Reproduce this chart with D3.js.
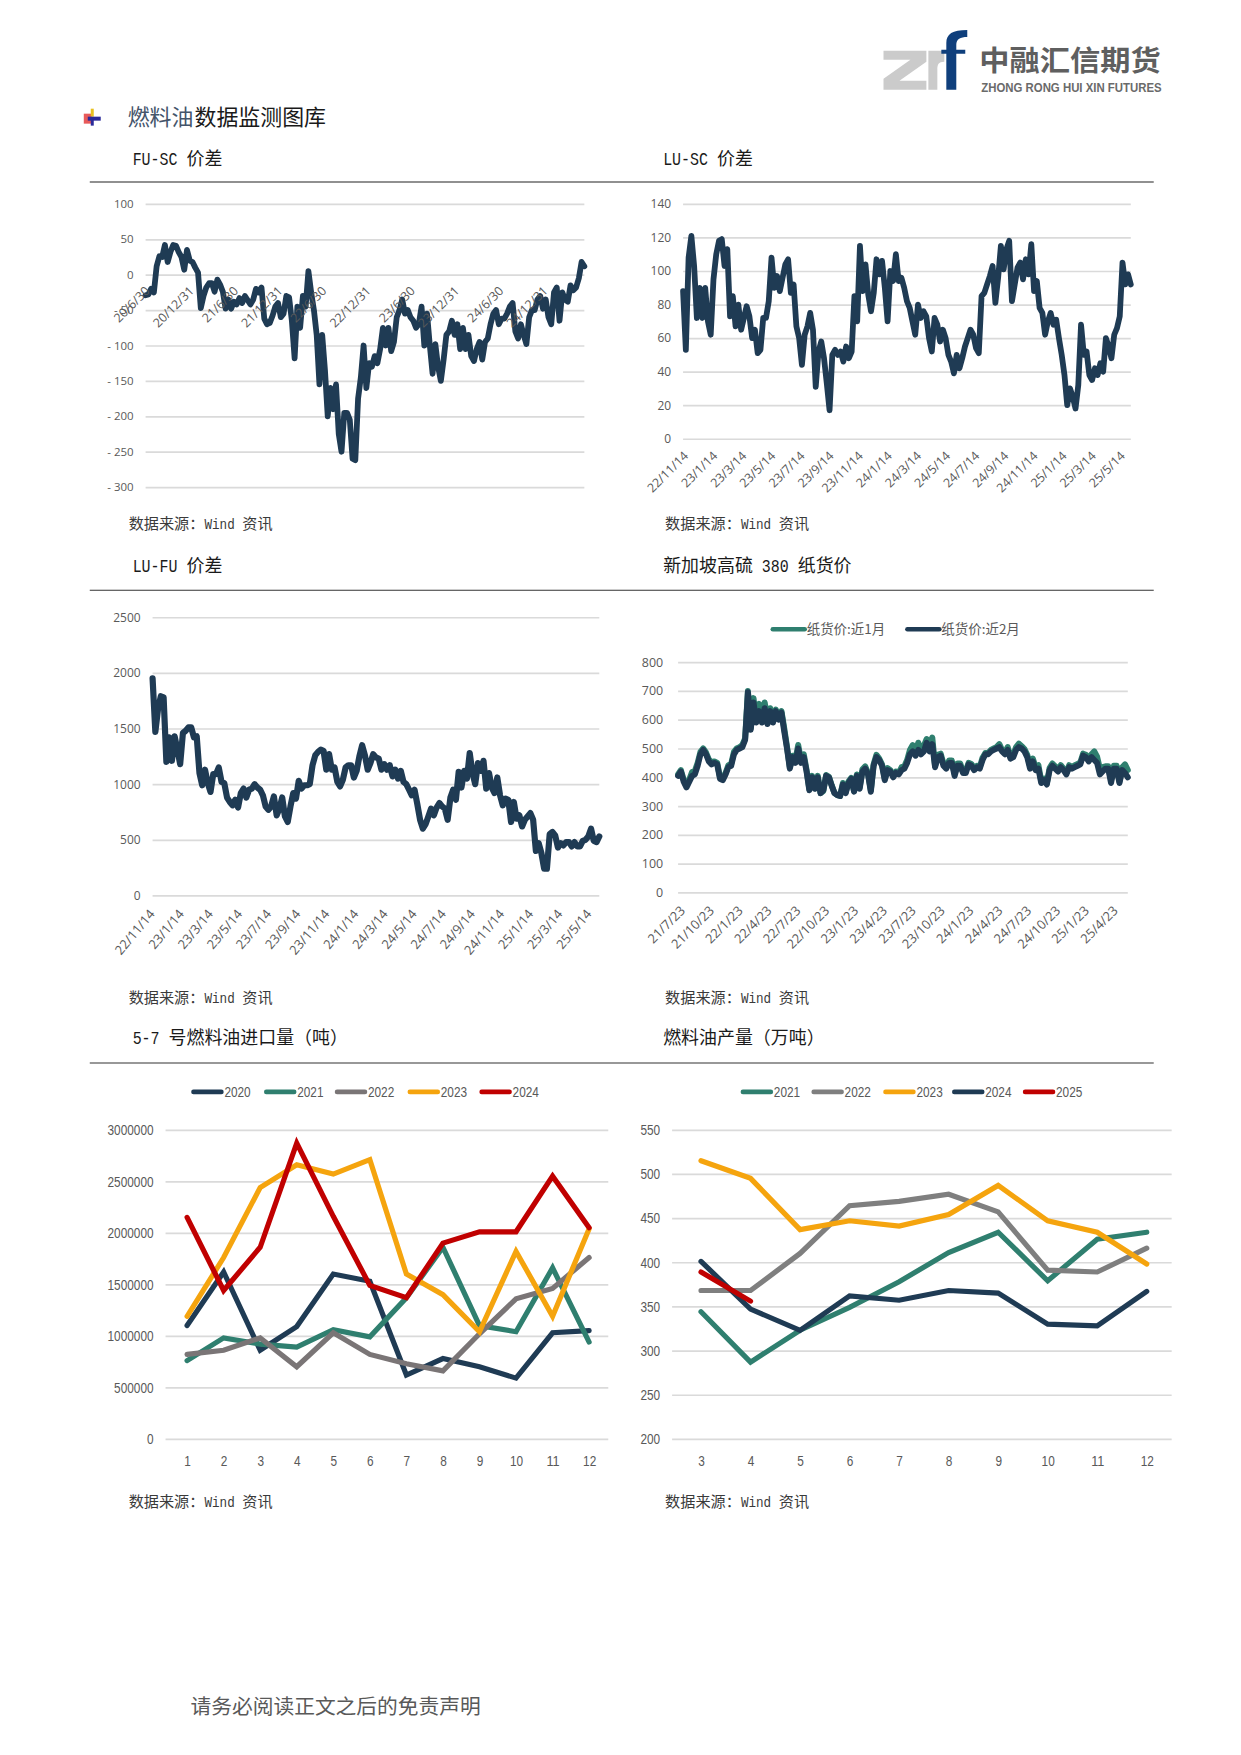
<!DOCTYPE html>
<html><head><meta charset="utf-8">
<script src="https://cdnjs.cloudflare.com/ajax/libs/d3/7.8.5/d3.min.js"></script>
<style>
html,body{margin:0;padding:0;background:#fff}
svg{display:block}
.tick text{font-family:"Open Sans","Noto Sans",sans-serif;fill:#595959}
.narrow .tick text{font-family:"Liberation Sans",sans-serif;fill:#595959}
</style></head><body>
<svg id="page" width="1241" height="1755" viewBox="0 0 1244.5 1760"></svg>
<script>
const fuScLabels=["20/6/30","20/12/31","21/6/30","21/12/31","22/6/30","22/12/31","23/6/30","23/12/31","24/6/30","24/12/31"];
const fuScValues=[-29,-28,-20,-25,12,26,25,42,18,32,42,41,32,25,7,35,20,18,10,3,-47,-30,-18,-12,-12,-24,-7,-14,-24,-48,-35,-48,-38,-42,-33,-40,-30,-36,-42,-35,-20,-25,-18,-62,-70,-68,-58,-45,-40,-60,-55,-30,-32,-65,-118,-45,-75,-30,-45,5,-25,-50,-85,-155,-85,-135,-200,-160,-190,-155,-225,-250,-195,-195,-205,-260,-262,-175,-145,-100,-160,-125,-130,-115,-125,-105,-75,-100,-75,-108,-95,-60,-50,-35,-55,-50,-60,-65,-75,-70,-45,-100,-55,-100,-140,-98,-130,-150,-120,-85,-80,-65,-85,-70,-105,-75,-105,-85,-115,-122,-105,-95,-120,-95,-90,-70,-55,-50,-70,-62,-62,-55,-45,-40,-80,-90,-70,-85,-98,-60,-50,-50,-35,-30,-48,-35,-60,-70,-25,-18,-65,-25,-35,-38,-15,-22,-18,-5,18,12];
const dateLabelsNov=["22/11/14","23/1/14","23/3/14","23/5/14","23/7/14","23/9/14","23/11/14","24/1/14","24/3/14","24/5/14","24/7/14","24/9/14","24/11/14","25/1/14","25/3/14","25/5/14"];
const luScValues=[88,53,108,121,103,72,90,72,90,70,62,95,110,118,119,103,113,73,85,67,80,65,72,79,73,60,65,51,53,72,72,82,108,90,97,88,96,104,107,87,92,67,60,44,62,67,75,65,31,52,58,48,33,17,50,53,50,52,46,55,48,52,85,70,115,88,104,86,76,87,107,98,106,90,70,100,94,110,94,96,90,82,78,70,62,80,72,76,73,60,52,72,68,58,65,60,50,46,39,50,42,48,55,60,65,62,54,51,85,87,92,97,103,81,96,115,101,113,118,82,92,102,105,95,107,98,116,88,94,78,75,62,70,75,68,71,60,50,38,20,30,25,18,32,68,50,52,38,35,42,38,45,40,60,55,48,62,66,73,105,92,98,92];
const luFuValues=[1950,1470,1680,1790,1780,1200,1420,1210,1430,1310,1180,1460,1480,1510,1510,1420,1430,1100,990,1130,1010,930,1090,1090,1150,1020,1010,880,840,810,860,790,920,960,880,950,960,1000,970,950,900,800,770,800,890,720,780,880,710,660,800,920,870,1030,960,990,990,1000,1170,1260,1290,1310,1300,1130,1270,1130,1150,1020,980,1040,1150,1170,1170,1060,1120,1250,1350,1260,1130,1190,1270,1240,1230,1130,1180,1130,1170,1070,1130,1050,1120,1020,1000,950,900,950,820,680,600,640,710,780,720,790,830,800,780,680,880,950,860,1110,970,1120,1050,1280,1100,1000,1190,1120,1210,960,1100,970,920,1060,900,810,870,860,660,840,690,720,620,680,710,740,680,400,470,380,240,240,550,570,540,430,470,450,480,480,440,480,440,440,490,500,530,600,490,480,530];
const swapLabels=["21/7/23","21/10/23","22/1/23","22/4/23","22/7/23","22/10/23","23/1/23","23/4/23","23/7/23","23/10/23","24/1/23","24/4/23","24/7/23","24/10/23","25/1/23","25/4/23"];
const swapNear2=[405,420,385,365,385,405,410,440,480,495,480,455,445,450,445,395,390,410,435,440,480,495,500,505,530,695,565,660,590,630,590,640,585,630,590,630,600,625,560,500,430,470,450,500,450,470,420,355,400,360,400,345,355,405,400,370,345,338,335,375,345,380,395,350,405,360,420,430,410,350,440,470,460,440,390,425,420,400,415,410,425,430,450,480,490,475,495,480,490,520,490,515,435,470,475,440,430,450,450,405,440,440,415,415,445,440,425,435,430,460,480,480,490,495,500,505,490,480,495,465,470,495,505,500,490,470,430,455,425,430,380,390,375,425,440,430,420,435,425,410,435,430,435,440,445,475,470,455,470,460,450,410,420,430,430,380,430,430,380,425,415,400];
const swapNear1=[410,425,392,372,392,418,422,450,488,500,486,462,452,455,450,400,398,415,442,446,488,500,505,512,535,700,570,675,600,655,605,660,600,640,605,635,605,630,570,505,435,475,460,512,460,480,425,358,405,362,405,345,352,408,402,372,345,338,335,380,348,385,398,352,410,365,428,438,415,355,445,478,465,445,395,432,425,405,420,415,435,438,460,495,512,488,520,495,510,533,510,538,440,478,482,448,435,458,458,412,448,448,420,422,450,446,432,440,435,468,484,484,495,500,505,515,495,485,505,470,478,505,517,508,498,478,438,465,435,442,388,395,378,432,448,438,428,442,430,415,442,436,442,446,452,482,478,462,480,490,472,430,435,438,438,390,440,440,385,435,445,425];
const swapSeriesNames=["纸货价:近1月","纸货价:近2月"];
const months12=[1,2,3,4,5,6,7,8,9,10,11,12];
const imp2020=[1100000,1620000,860000,1090000,1600000,1530000,620000,780000,700000,590000,1030000,1050000];
const imp2021=[760000,980000,920000,890000,1060000,990000,1370000,1860000,1100000,1040000,1660000,940000];
const imp2022=[820000,860000,980000,700000,1030000,820000,730000,660000,1020000,1360000,1460000,1760000];
const imp2023=[1190000,1760000,2440000,2660000,2570000,2710000,1600000,1400000,1040000,1820000,1190000,2040000];
const imp2024=[2150000,1440000,1860000,2870000,2160000,1490000,1370000,1900000,2010000,2010000,2550000,2050000];
const months10=[3,4,5,6,7,8,9,10,11,12];
const out2021=[344,287,323,349,378,411,434,379,426,434];
const out2022=[368,368,410,464,469,477,457,391,389,416];
const out2023=[515,495,437,447,441,454,487,447,434,398];
const out2024=[401,347,323,362,357,368,365,330,328,367];
const out2025=[389,356];

const NAVY="#1f3b54",TEAL="#2f7f6f",GRAY="#7f7f7f",GRAY2="#7a7576",ORANGE="#f5a40e",RED="#c00000";
const svg=d3.select("#page");
const CJK='"Noto Sans CJK SC"',MONO='"Liberation Mono"';
const CHAR_W=6.6;

function rich(x,y,text,size,fill){
  let cx=x;
  (text.match(/[\x00-\x7F]+|[^\x00-\x7F]+/g)||[]).forEach(p=>{
    const latin=/^[\x00-\x7F]/.test(p);
    const body=latin?p.trim():p;
    const lead=latin?(p.length-p.trimStart().length)*size*0.5:0;
    const t=svg.append("text").attr("fill",fill||"#222").attr("font-family",latin?MONO:CJK).attr("font-size",size).text(body);
    t.attr("transform",latin?`translate(${cx+lead},${y}) scale(0.833,1)`:`translate(${cx},${y})`);
    cx+=latin?p.length*size*0.5:p.length*size;
  });
}
function yAxis(g,y,w,ticks,size,pad){
  const a=d3.axisLeft(y).tickValues(ticks).tickSize(-w).tickPadding(pad).tickFormat(d=>d<0?"- "+(-d):String(d));
  g.call(a);
  g.select(".domain").remove();
  g.selectAll(".tick line").attr("stroke","#dadada").attr("stroke-width",1.7);
  g.selectAll(".tick text").attr("font-size",size);
}
function longChart(c){
  const g=svg.append("g").attr("transform",`translate(${c.x0},${c.y0})`);
  const w=c.x1-c.x0,h=c.y1-c.y0;
  const y=d3.scaleLinear().domain(c.domain).range([h,0]);
  const n=c.series[0].values.length;
  const x=d3.scaleLinear().domain([0,n-1]).range([0,w]);
  yAxis(g.append("g"),y,w,c.ticks,c.fs||11.5,c.pad||12);
  const line=d3.line().x((d,i)=>x(i)).y(d=>y(d)).curve(d3.curveLinear);
  c.series.forEach(s=>g.append("path").datum(s.values).attr("d",line).attr("fill","none").attr("stroke",s.color).attr("stroke-width",c.sw||5.8).attr("stroke-linejoin","round").attr("stroke-linecap","round"));
  const tickY=c.labelY!==undefined?y(c.labelY):h;
  const xs=d3.scaleLinear().domain([0,c.labels.length-1]).range([c.lab0,c.lab1]);
  c.labels.forEach((l,i)=>{
    g.append("text").attr("transform",`translate(${xs(i)},${tickY+c.labelDy}) rotate(${c.rot||-45})`)
     .attr("text-anchor","end").attr("font-family",'"Open Sans","Noto Sans",sans-serif').attr("font-size",c.lfs||12.5).attr("fill","#595959").text(l);
  });
}
function squeeze(sel){
  sel.attr("lengthAdjust","spacingAndGlyphs").attr("textLength",function(){return this.textContent.length*CHAR_W;});
}
function yearChart(c){
  const g=svg.append("g").attr("class","narrow").attr("transform",`translate(${c.x0},${c.y0})`);
  const w=c.x1-c.x0,h=c.y1-c.y0;
  const y=d3.scaleLinear().domain(c.domain).range([h,0]);
  const x=d3.scalePoint().domain(c.cats).range(c.catRange);
  yAxis(g.append("g"),y,w,c.ticks,15,c.pad);
  squeeze(g.selectAll(".tick text"));
  const xa=g.append("g").attr("transform",`translate(0,${h})`).call(d3.axisBottom(x).tickSize(0).tickPadding(17));
  xa.select(".domain").remove();
  xa.selectAll(".tick text").attr("font-size",15);
  squeeze(xa.selectAll(".tick text"));
  c.series.forEach(s=>{
    const line=d3.line().x((d,i)=>x(c.cats[i])).y(d=>y(d));
    g.append("path").datum(s.values).attr("d",line).attr("fill","none").attr("stroke",s.color).attr("stroke-width",5.2).attr("stroke-linejoin","miter").attr("stroke-linecap","round");
  });
  c.series.forEach((s,i)=>{
    const lx=c.legendX[i];
    svg.append("line").attr("x1",lx).attr("x2",lx+c.legendLen).attr("y1",c.legendY).attr("y2",c.legendY).attr("stroke",s.color).attr("stroke-width",4.6).attr("stroke-linecap","round");
    squeeze(svg.append("text").attr("x",lx+c.legendLen+3).attr("y",c.legendY+5.5).attr("font-size",15).attr("fill","#595959").attr("font-family",'"Liberation Sans",sans-serif').text(s.name));
  });
}

/* header */
const logo=svg.append("g");
logo.append("path").attr("fill","#cbcbcb").attr("d","M886 51H929V62L902 81H929V90H886V79L913 60H886Z");
logo.append("path").attr("fill","#cbcbcb").attr("d","M931 51H947V62C941 62 940 65 940 70V90H931Z");
logo.append("path").attr("fill","#0f3f7c").attr("d","M949 90V54H944V50H949V43C949 34 955 30 970 30V37C963 37 959 39 959 45V50H968V54H959V90Z");
logo.append("text").attr("x",982).attr("y",71).attr("font-family",CJK).attr("font-weight",700).attr("font-size",29).attr("fill","#5f5f5f").attr("textLength",182).attr("lengthAdjust","spacingAndGlyphs").text("中融汇信期货");
logo.append("text").attr("x",984).attr("y",92).attr("font-family",'"Liberation Sans",sans-serif').attr("font-size",12.5).attr("font-weight",700).attr("fill","#6a6a6a").attr("textLength",181).attr("lengthAdjust","spacingAndGlyphs").text("ZHONG RONG HUI XIN FUTURES");
/* bullet */
const b=svg.append("g");
b.append("rect").attr("x",84).attr("y",114).attr("width",8).attr("height",10).attr("fill","#e85a5a");
b.append("rect").attr("x",91).attr("y",109).attr("width",3).attr("height",8).attr("fill","#e8c020");
b.append("rect").attr("x",88).attr("y",117).attr("width",13).attr("height",4).attr("fill","#2a2a9a");
b.append("rect").attr("x",91).attr("y",120).attr("width",3).attr("height",6).attr("fill","#2a2a9a");
svg.append("text").attr("x",128).attr("y",125).attr("font-family",CJK).attr("font-size",22).attr("fill","#44546a").text("燃料油");
svg.append("text").attr("x",195).attr("y",125).attr("font-family",CJK).attr("font-size",22).attr("fill","#1a1a1a").text("数据监测图库");

/* section titles and rules */
[[133,165,"FU-SC 价差"],[665,165,"LU-SC 价差"],[133,574,"LU-FU 价差"],[665,574,"新加坡高硫 380 纸货价"],[133,1047,"5-7 号燃料油进口量（吨）"],[665,1047,"燃料油产量（万吨）"]].forEach(d=>rich(d[0],d[1],d[2],18,"#1a1a1a"));
[182.5,592,1066].forEach(y=>svg.append("line").attr("x1",90).attr("x2",1157).attr("y1",y).attr("y2",y).attr("stroke",y===182.5?"#222":"#333").attr("stroke-width",1.1));
[[129,531],[667,531],[129,1006],[667,1006],[129,1511],[667,1511]].forEach(d=>rich(d[0],d[1],"数据来源：Wind 资讯",15.2,"#3a3a3a"));
svg.append("text").attr("x",191).attr("y",1719).attr("font-family",CJK).attr("font-size",20.8).attr("fill","#595959").text("请务必阅读正文之后的免责声明");

/* charts */
longChart({x0:146,x1:586,y0:204.5,y1:488.5,domain:[-300,100],ticks:[100,50,0,-50,-100,-150,-200,-250,-300],series:[{values:fuScValues,color:NAVY}],labels:fuScLabels,lab0:5,lab1:404,labelY:0,labelDy:17});
longChart({x0:685,x1:1134,y0:204.5,y1:440,domain:[0,140],ticks:[0,20,40,60,80,100,120,140],series:[{values:luScValues,color:NAVY}],labels:dateLabelsNov,lab0:6,lab1:444,labelDy:18,fs:12});
longChart({x0:153,x1:601,y0:619,y1:898,domain:[0,2500],ticks:[0,500,1000,1500,2000,2500],series:[{values:luFuValues,color:NAVY}],labels:dateLabelsNov,lab0:3,lab1:441,labelDy:19,fs:12,rot:-50,lfs:13,sw:6.2});
longChart({x0:680,x1:1131,y0:664,y1:895,domain:[0,800],ticks:[0,100,200,300,400,500,600,700,800],series:[{values:swapNear1,color:TEAL},{values:swapNear2,color:NAVY}],labels:swapLabels,lab0:8,lab1:442,labelDy:19,fs:12.5,pad:15,lfs:13,sw:6});
[[775,TEAL,0],[910,NAVY,1]].forEach(d=>{
  svg.append("line").attr("x1",d[0]).attr("x2",d[0]+32).attr("y1",631).attr("y2",631).attr("stroke",d[1]).attr("stroke-width",4.6).attr("stroke-linecap","round");
  svg.append("text").attr("x",d[0]+34).attr("y",636).attr("font-family",CJK).attr("font-size",13.5).attr("fill","#595959").text(swapSeriesNames[d[2]]);
});
yearChart({x0:166,x1:610,y0:1133,y1:1443,pad:12,catRange:[21.6,424.8],domain:[0,3000000],ticks:[0,500000,1000000,1500000,2000000,2500000,3000000],cats:months12,
 series:[{name:"2020",values:imp2020,color:NAVY},{name:"2021",values:imp2021,color:TEAL},{name:"2022",values:imp2022,color:GRAY2},{name:"2023",values:imp2023,color:ORANGE},{name:"2024",values:imp2024,color:RED}],
 legendX:[194,267,338,411,483],legendLen:28,legendY:1095});
yearChart({x0:674,x1:1175,y0:1133,y1:1443,pad:12,catRange:[29,476],domain:[200,550],ticks:[200,250,300,350,400,450,500,550],cats:months10,
 series:[{name:"2021",values:out2021,color:TEAL},{name:"2022",values:out2022,color:GRAY},{name:"2023",values:out2023,color:ORANGE},{name:"2024",values:out2024,color:NAVY},{name:"2025",values:out2025,color:RED}],
 legendX:[745,816,888,957,1028],legendLen:28,legendY:1095});
</script>
</body></html>
